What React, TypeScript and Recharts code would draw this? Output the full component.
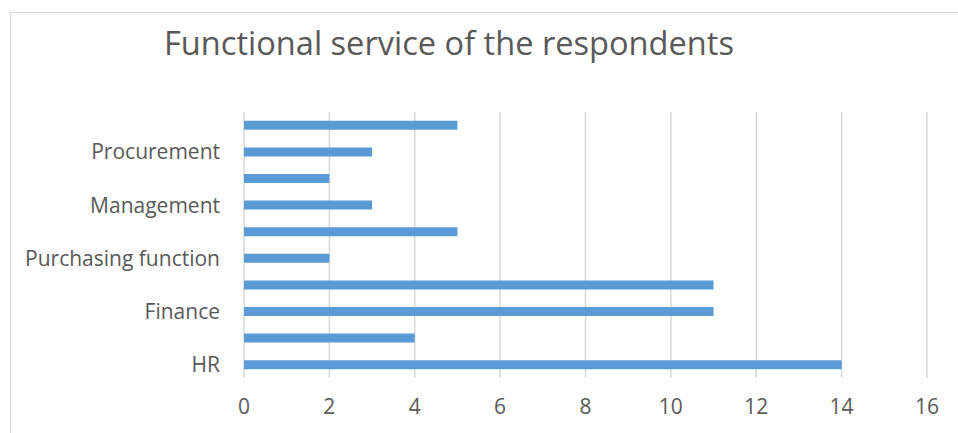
import React from 'react';
import { BarChart, Bar, XAxis, YAxis, CartesianGrid } from 'recharts';

// Categories listed bottom to top (only every other label is shown in the reference)
const categories: string[] = ['HR', '', 'Finance', '', 'Purchasing function', '', 'Management', '', 'Procurement', ''];
const counts: number[] = [14, 4, 11, 11, 2, 5, 3, 2, 3, 5];
const xTicks: number[] = [0, 2, 4, 6, 8, 10, 12, 14, 16];
const title = 'Functional service of the respondents';

const data = categories.map((name, i) => ({ name, value: counts[i] }));

const FONT = '"Open Sans", sans-serif';
const TEXT = '#595959';
const GRID = '#d9d9d9';

export default function App() {
  return (
    <div style={{ position: 'absolute', left: 0, top: 0, width: 958, height: 433, overflow: 'hidden', background: '#fff' }}>
      <div style={{ position: 'absolute', left: 10, top: 12, width: 1200, height: 600, border: `1.5px solid ${GRID}`, boxSizing: 'border-box' }} />
      <div style={{ position: 'absolute', left: 164, top: 27, fontFamily: FONT, fontSize: 32.6, lineHeight: '32px', color: TEXT, whiteSpace: 'nowrap' }}>
        {title}
      </div>
      <div style={{ position: 'absolute', left: 0, top: 0 }}>
        <BarChart
          width={958}
          height={433}
          data={data}
          layout="vertical"
          margin={{ top: 112, right: 31, bottom: 0, left: 10 }}
          barCategoryGap="33%"
        >
          <CartesianGrid horizontal={false} stroke={GRID} strokeWidth={1.5} />
          <XAxis
            type="number"
            domain={[0, 16]}
            ticks={xTicks}
            axisLine={false}
            tickLine={false}
            tickSize={0}
            tickMargin={21}
            height={55}
            tick={{ fill: TEXT, fontSize: 21, fontFamily: FONT }}
            interval={0}
          />
          <YAxis
            type="category"
            dataKey="name"
            reversed
            axisLine={false}
            tickLine={false}
            tickSize={0}
            tickMargin={24}
            width={234}
            interval={0}
            tick={{ fill: TEXT, fontSize: 21, fontFamily: FONT }}
          />
          <Bar dataKey="value" fill="#5b9bd5" isAnimationActive={false} />
        </BarChart>
      </div>
    </div>
  );
}
